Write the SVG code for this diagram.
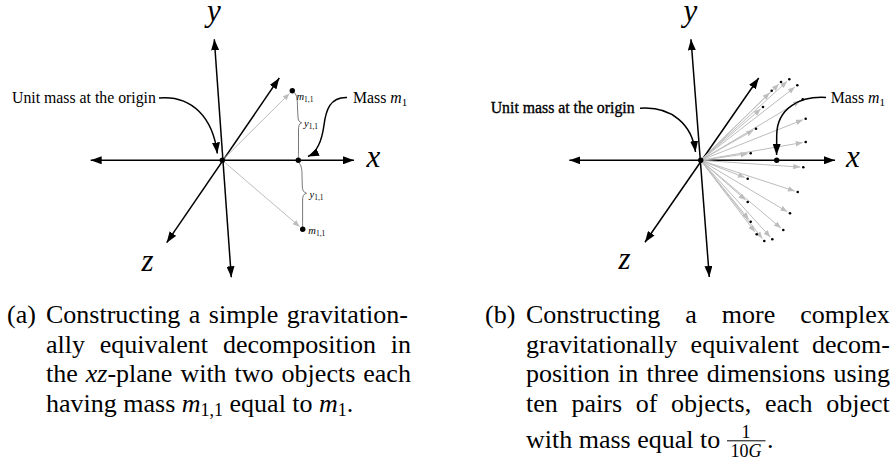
<svg xmlns="http://www.w3.org/2000/svg" width="893" height="464" viewBox="0 0 893 464" font-family="'Liberation Serif', 'DejaVu Serif', 'Times New Roman', serif">
<style>
  .ax{stroke:#000;stroke-width:1.5;fill:none;marker-start:url(#ah);marker-end:url(#ah)}
  .cv{stroke:#000;stroke-width:1.5;fill:none;marker-end:url(#ah)}
  .gr{stroke:#bdbdbd;stroke-width:1;fill:none;marker-end:url(#gh)}
  .br{stroke:#555;stroke-width:0.8;fill:none}
  text{font-family:'Liberation Serif','DejaVu Serif','Times New Roman',serif;fill:#000}
  .lbl{font-size:15.8px}
  .axl{font-size:31px;font-style:italic}
  .sm{font-size:10.5px;font-style:italic}
  .sub{font-size:7.5px;font-style:normal}
  .cap{font-size:26px}
  .it{font-style:italic}
  .cs{font-size:18px}
</style>
<defs>
  <marker id="ah" markerUnits="userSpaceOnUse" markerWidth="12" markerHeight="8" refX="11" refY="4" orient="auto-start-reverse">
    <path d="M0,0 L11,4 L0,8 z" fill="#000"/>
  </marker>
  <marker id="gh" markerUnits="userSpaceOnUse" markerWidth="8" markerHeight="6" refX="7" refY="2.75" orient="auto">
    <path d="M0,0 L7,2.75 L0,5.5 z" fill="#bdbdbd"/>
  </marker>
</defs>

<!-- Panel (a) -->
<g id="a-axes">
  <line class="ax" x1="90.7" y1="160.3" x2="354" y2="160.3"/>
  <line class="ax" x1="214.3" y1="39.3" x2="231.3" y2="277.3"/>
  <line class="ax" x1="279.3" y1="78" x2="166.7" y2="242.7"/>
  <text class="axl" x="366.5" y="167.3">x</text>
  <text class="axl" x="214" y="21" text-anchor="middle">y</text>
  <text class="axl" x="147.5" y="270.5" text-anchor="middle">z</text>
</g>
<g id="a-connectors">
  <line class="gr" x1="222.3" y1="160.3" x2="289.5" y2="93.5"/>
  <line class="gr" x1="222.3" y1="160.3" x2="299.7" y2="226.7"/>
  <path class="cv" d="M159,98 C192,95 213,118 217.3,153.5"/>
  <path class="cv" d="M347,97.5 C330,97 326,110 324,125 C322,140 318,152 308,156.5"/>
  <path class="br" d="M294.5,93 C297,95 297.5,100 297.5,108 L298,117 C298,120 299,122 301.7,122.8 C299,123.8 298.5,126 298.5,130 L298.5,150 C298.5,155 298.4,157 298.3,158"/>
  <path class="br" d="M299,163 C301,165 302,168 302,175 L302.3,186 C302.3,190 303.5,192.5 306.5,193.3 C303.5,194 302.6,196 302.6,200 L302.6,218 C302.6,223 302.6,225 302.6,227"/>
</g>
<g id="a-origin">
  <circle cx="222.3" cy="160.3" r="2.7"/>
  <text class="lbl" x="12" y="103">Unit mass at the origin</text>
</g>
<g id="a-mass">
  <circle cx="298.3" cy="160.3" r="2.7"/>
  <text class="lbl" x="353" y="103">Mass <tspan class="it">m</tspan><tspan font-size="11px" dy="3">1</tspan></text>
</g>
<g id="a-m11-upper">
  <circle cx="292.3" cy="90.7" r="2.7"/>
  <text class="sm" x="296.5" y="99.5">m<tspan class="sub" dy="2">1,1</tspan></text>
  <text class="sm" x="304" y="127">y<tspan class="sub" dy="2">1,1</tspan></text>
</g>
<g id="a-m11-lower">
  <circle cx="302.7" cy="229.3" r="2.7"/>
  <text class="sm" x="308.3" y="233.5">m<tspan class="sub" dy="2">1,1</tspan></text>
  <text class="sm" x="309.5" y="197.5">y<tspan class="sub" dy="2">1,1</tspan></text>
</g>
<g id="a-caption">
  <text class="cap" x="7" y="323.3">(a)</text>
  <text class="cap" x="46" y="323.3" word-spacing="2">Constructing a simple gravitation-</text>
  <text class="cap" x="46" y="352.8" word-spacing="8.3">ally equivalent decomposition in</text>
  <text class="cap" x="46" y="382.3" word-spacing="1.5">the <tspan class="it">xz</tspan>-plane with two objects each</text>
  <text class="cap" x="46" y="411.7">having mass <tspan class="it">m</tspan><tspan class="cs" dy="4.5">1,1</tspan><tspan dy="-4.5"> equal to </tspan><tspan class="it">m</tspan><tspan class="cs" dy="4.5">1</tspan><tspan dy="-4.5">.</tspan></text>
</g>

<!-- Panel (b) -->
<g id="b-axes">
  <line class="ax" x1="569.3" y1="160.3" x2="835" y2="160.3"/>
  <line class="ax" x1="691" y1="39.3" x2="709.3" y2="277"/>
  <line class="ax" x1="758.7" y1="78" x2="645" y2="242.3"/>
  <text class="axl" x="846" y="166.8">x</text>
  <text class="axl" x="690.5" y="21" text-anchor="middle">y</text>
  <text class="axl" x="624.5" y="269" text-anchor="middle">z</text>
</g>
<g id="b-connectors">
  <line class="gr" x1="700.7" y1="160.3" x2="778.9" y2="84.1"/>
  <line class="gr" x1="700.7" y1="160.3" x2="787.1" y2="81.3"/>
  <line class="gr" x1="700.7" y1="160.3" x2="794.9" y2="87.1"/>
  <line class="gr" x1="700.7" y1="160.3" x2="769.6" y2="92.8"/>
  <line class="gr" x1="700.7" y1="160.3" x2="800.1" y2="100.8"/>
  <line class="gr" x1="700.7" y1="160.3" x2="760.7" y2="109.0"/>
  <line class="gr" x1="700.7" y1="160.3" x2="802.9" y2="119.8"/>
  <line class="gr" x1="700.7" y1="160.3" x2="753.4" y2="130.2"/>
  <line class="gr" x1="700.7" y1="160.3" x2="802.7" y2="142.5"/>
  <line class="gr" x1="700.7" y1="160.3" x2="747.7" y2="153.7"/>
  <line class="gr" x1="700.7" y1="160.3" x2="800.3" y2="167.1"/>
  <line class="gr" x1="700.7" y1="160.3" x2="744.9" y2="177.6"/>
  <line class="gr" x1="700.7" y1="160.3" x2="794.8" y2="191.1"/>
  <line class="gr" x1="700.7" y1="160.3" x2="745.5" y2="200.0"/>
  <line class="gr" x1="700.7" y1="160.3" x2="787.4" y2="211.8"/>
  <line class="gr" x1="700.7" y1="160.3" x2="748.8" y2="219.4"/>
  <line class="gr" x1="700.7" y1="160.3" x2="781.0" y2="228.1"/>
  <line class="gr" x1="700.7" y1="160.3" x2="754.9" y2="231.9"/>
  <line class="gr" x1="700.7" y1="160.3" x2="770.3" y2="237.1"/>
  <line class="gr" x1="700.7" y1="160.3" x2="762.4" y2="238.6"/>
  <path class="cv" d="M640,108.3 C672,106 692,125 695.5,152"/>
  <path class="cv" d="M826,97.5 C800,96 777,108 776.7,135 L776.6,155"/>
</g>
<g id="b-objects">
  <circle cx="781" cy="82" r="1.3"/>
  <circle cx="789.3" cy="79.3" r="1.3"/>
  <circle cx="797.3" cy="85.3" r="1.3"/>
  <circle cx="771.7" cy="90.7" r="1.3"/>
  <circle cx="802.7" cy="99.3" r="1.3"/>
  <circle cx="763" cy="107" r="1.3"/>
  <circle cx="805.7" cy="118.7" r="1.3"/>
  <circle cx="756" cy="128.7" r="1.3"/>
  <circle cx="805.7" cy="142" r="1.3"/>
  <circle cx="750.7" cy="153.3" r="1.3"/>
  <circle cx="803.3" cy="167.3" r="1.3"/>
  <circle cx="747.7" cy="178.7" r="1.3"/>
  <circle cx="797.7" cy="192" r="1.3"/>
  <circle cx="747.7" cy="202" r="1.3"/>
  <circle cx="790" cy="213.3" r="1.3"/>
  <circle cx="750.7" cy="221.7" r="1.3"/>
  <circle cx="783.3" cy="230" r="1.3"/>
  <circle cx="756.7" cy="234.3" r="1.3"/>
  <circle cx="772.3" cy="239.3" r="1.3"/>
  <circle cx="764.3" cy="241" r="1.3"/>
</g>
<g id="b-origin">
  <circle cx="700.7" cy="160.3" r="2.7"/>
  <text class="lbl" x="490.7" y="113.3" stroke="#000" stroke-width="0.35">Unit mass at the origin</text>
</g>
<g id="b-mass">
  <circle cx="776.7" cy="160.3" r="2.7"/>
  <text class="lbl" x="830.7" y="103">Mass <tspan class="it">m</tspan><tspan font-size="11px" dy="3">1</tspan></text>
</g>
<g id="b-caption">
  <text class="cap" x="485" y="323.3">(b)</text>
  <text class="cap" x="526" y="323.3" word-spacing="18.5">Constructing a more complex</text>
  <text class="cap" x="526" y="352.8" word-spacing="6.5">gravitationally equivalent decom-</text>
  <text class="cap" x="526" y="382.3" word-spacing="1.8">position in three dimensions using</text>
  <text class="cap" x="526" y="411.7" word-spacing="7.2">ten pairs of objects, each object</text>
  <text class="cap" x="526" y="448">with mass equal to</text>
  <text class="cs" x="746" y="437.5" text-anchor="middle">1</text>
  <line x1="727" y1="440.8" x2="765.5" y2="440.8" stroke="#000" stroke-width="1"/>
  <text class="cs" x="746" y="456.5" text-anchor="middle">10<tspan class="it">G</tspan></text>
  <text class="cap" x="767" y="448">.</text>
</g>
</svg>
